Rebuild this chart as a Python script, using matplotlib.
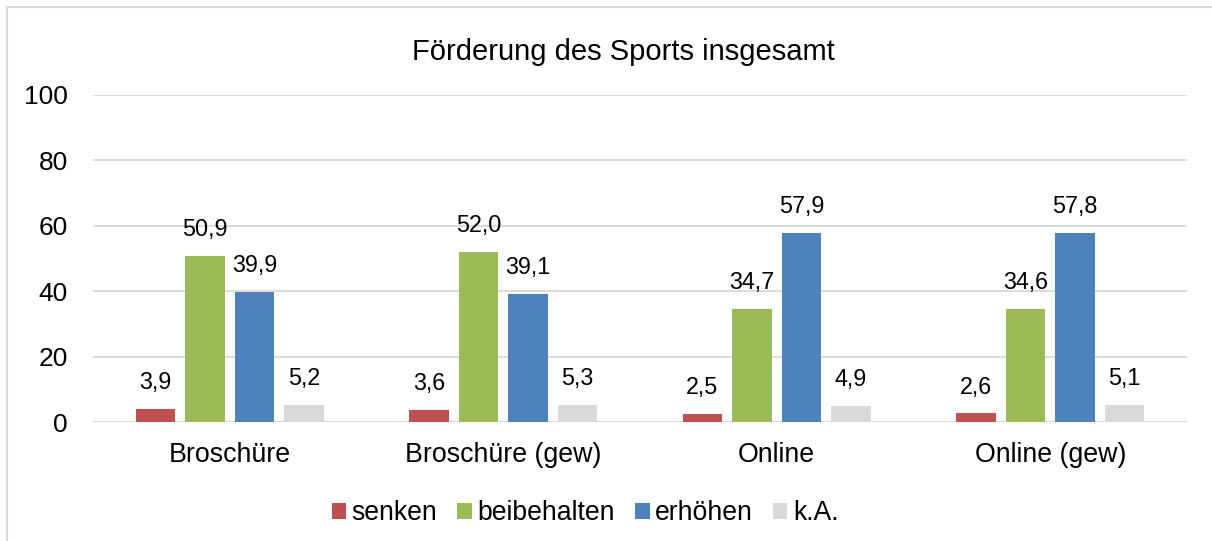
import matplotlib
matplotlib.use("Agg")
import matplotlib.pyplot as plt
import numpy as np
from matplotlib.patches import Rectangle

plt.rcParams['font.family'] = ['Liberation Sans', 'DejaVu Sans']

categories = ["Broschüre", "Broschüre (gew)", "Online", "Online (gew)"]
series_names = ["senken", "beibehalten", "erhöhen", "k.A."]
senken = [3.9, 3.6, 2.5, 2.6]
beibehalten = [50.9, 52.0, 34.7, 34.6]
erhoehen = [39.9, 39.1, 57.9, 57.8]
ka = [5.2, 5.3, 4.9, 5.1]
colors = ["#c0504d", "#9bbb59", "#4f81bd", "#d9d9d9"]
yticks = [0, 20, 40, 60, 80, 100]

fig = plt.figure(figsize=(12.12, 5.41), dpi=100)
fig.patches.append(Rectangle((7/1212, -0.1), 1.2, 1 - 7/541 + 0.1, transform=fig.transFigure,
                             fill=False, edgecolor="#d9d9d9", linewidth=1.5))
ax = fig.add_axes([93/1212, 1 - 422/541, (1187 - 93)/1212, (422 - 95)/541])

x = np.arange(len(categories))
pitch = 0.181
width = 0.143
all_series = [senken, beibehalten, erhoehen, ka]
for i, (vals, name, c) in enumerate(zip(all_series, series_names, colors)):
    pos = x + (i - 1.5) * pitch
    ax.bar(pos, vals, width, color=c, label=name, zorder=3)
    for p, v in zip(pos, vals):
        ax.annotate(f"{v:.1f}".replace(".", ","), (p, v), xytext=(0, 19), textcoords="offset points",
                    ha="center", va="center", fontsize=16.8, color="#000000")

ax.set_xlim(-0.5, len(categories) - 0.5)
ax.set_ylim(0, 100)
ax.set_yticks(yticks)
ax.set_yticklabels([str(t) for t in yticks], fontsize=19)
ax.set_xticks(x)
ax.set_xticklabels(categories, fontsize=19.3)
ax.tick_params(axis="x", length=0, pad=14.5)
ax.tick_params(axis="y", length=0, pad=18)
ax.grid(axis="y", color="#d9d9d9", linewidth=1.3, zorder=0)
for s in ax.spines.values():
    s.set_visible(False)
ax.axhline(0, color="#d9d9d9", linewidth=1.5, zorder=2)

fig.text(623/1212, 1 - 52/541, "Förderung des Sports insgesamt", ha="center", va="center", fontsize=21)

leg = fig.legend(loc="center", bbox_to_anchor=(585/1212, 1 - 513/541), ncol=4, frameon=False,
                 fontsize=19.2, handlelength=0.55, handleheight=0.55, handletextpad=0.2, columnspacing=0.75)

fig.savefig("out.png", dpi=100)
